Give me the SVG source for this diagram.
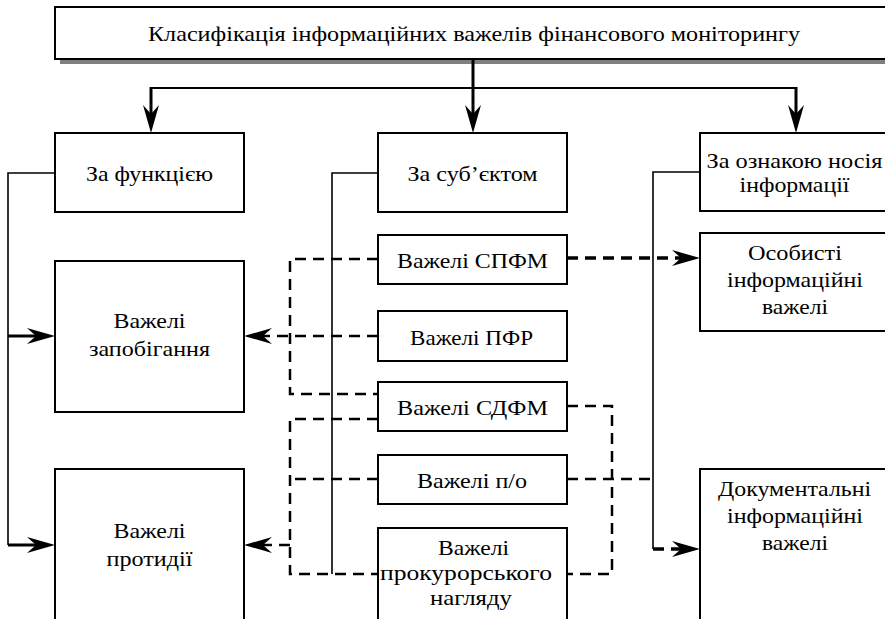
<svg xmlns="http://www.w3.org/2000/svg" width="885" height="619" viewBox="0 0 885 619">
<style>
.box{fill:#fff;stroke:#000;stroke-width:2}
.t{font-family:'Liberation Serif','Times New Roman',serif;font-size:22px;fill:#000;text-anchor:middle}
.thin{fill:none;stroke:#000;stroke-width:1.6}
.thick{fill:none;stroke:#000;stroke-width:3}
.dash{fill:none;stroke:#000;stroke-width:2.5;stroke-dasharray:11 7}
.dashb{fill:none;stroke:#000;stroke-width:3.5;stroke-dasharray:11 7}
</style>
<defs>
<marker id="ah" markerUnits="userSpaceOnUse" markerWidth="30" markerHeight="20" viewBox="0 -10 30 20" refX="13" refY="0" orient="auto" overflow="visible">
<path d="M0,-8 L28,0 L0,8 L9,0 Z" fill="#000"/>
</marker>
</defs>
<rect width="885" height="619" fill="#fff"/>
<g id="title">
<rect x="60" y="12" width="838" height="52" fill="#808080"/>
<rect class="box" x="55" y="7" width="838" height="52"/>
<text class="t" x="474" y="41" textLength="652" lengthAdjust="spacingAndGlyphs">Класифікація інформаційних важелів фінансового моніторингу</text>
</g>
<g id="by-function">
<rect class="box" x="55" y="133" width="189" height="79"/>
<text class="t" x="149.5" y="181" textLength="127" lengthAdjust="spacingAndGlyphs">За функцією</text>
</g>
<g id="by-subject">
<rect class="box" x="378" y="133" width="189" height="79"/>
<text class="t" x="472.5" y="181" textLength="130" lengthAdjust="spacingAndGlyphs">За суб’єктом</text>
</g>
<g id="by-carrier">
<rect class="box" x="700" y="133" width="189" height="78"/>
<text class="t" x="794.5" y="168" textLength="176" lengthAdjust="spacingAndGlyphs">За ознакою носія</text>
<text class="t" x="794.5" y="192" textLength="110" lengthAdjust="spacingAndGlyphs">інформації</text>
</g>
<g id="prevention">
<rect class="box" x="55" y="261" width="189" height="151"/>
<text class="t" x="149.5" y="328" textLength="72" lengthAdjust="spacingAndGlyphs">Важелі</text>
<text class="t" x="149.5" y="356" textLength="121" lengthAdjust="spacingAndGlyphs">запобігання</text>
</g>
<g id="counteraction">
<rect class="box" x="55" y="469" width="189" height="160"/>
<text class="t" x="149.5" y="538" textLength="72" lengthAdjust="spacingAndGlyphs">Важелі</text>
<text class="t" x="149.5" y="566" textLength="86" lengthAdjust="spacingAndGlyphs">протидії</text>
</g>
<g id="spfm">
<rect class="box" x="378" y="235" width="189" height="49"/>
<text class="t" x="472.5" y="268" textLength="151" lengthAdjust="spacingAndGlyphs">Важелі СПФМ</text>
</g>
<g id="pfr">
<rect class="box" x="378" y="311" width="189" height="50"/>
<text class="t" x="471.5" y="345" textLength="123" lengthAdjust="spacingAndGlyphs">Важелі ПФР</text>
</g>
<g id="sdfm">
<rect class="box" x="378" y="382" width="189" height="49"/>
<text class="t" x="472.5" y="415" textLength="151" lengthAdjust="spacingAndGlyphs">Важелі СДФМ</text>
</g>
<g id="po">
<rect class="box" x="378" y="455" width="189" height="49"/>
<text class="t" x="472" y="488" textLength="110" lengthAdjust="spacingAndGlyphs">Важелі п/о</text>
</g>
<g id="prosecutor">
<rect class="box" x="378" y="528" width="189" height="100"/>
<text class="t" x="473.5" y="555" textLength="71" lengthAdjust="spacingAndGlyphs">Важелі</text>
<text class="t" x="466" y="580" textLength="172" lengthAdjust="spacingAndGlyphs">прокурорського</text>
<text class="t" x="471" y="605" textLength="82" lengthAdjust="spacingAndGlyphs">нагляду</text>
</g>
<g id="personal">
<rect class="box" x="700" y="233" width="189" height="98"/>
<text class="t" x="795" y="260" textLength="94" lengthAdjust="spacingAndGlyphs">Особисті</text>
<text class="t" x="795" y="287" textLength="136" lengthAdjust="spacingAndGlyphs">інформаційні</text>
<text class="t" x="795" y="314" textLength="66" lengthAdjust="spacingAndGlyphs">важелі</text>
</g>
<g id="documentary">
<rect class="box" x="700" y="469" width="189" height="160"/>
<text class="t" x="794.5" y="496" textLength="153" lengthAdjust="spacingAndGlyphs">Документальні</text>
<text class="t" x="795" y="523" textLength="136" lengthAdjust="spacingAndGlyphs">інформаційні</text>
<text class="t" x="795" y="550" textLength="66" lengthAdjust="spacingAndGlyphs">важелі</text>
</g>
<g id="connectors">
<path class="thick" d="M473,59 V118" marker-end="url(#ah)"/>
<path fill="none" stroke="#000" stroke-width="2" d="M151,88 H796"/>
<path class="thick" d="M151,87 V118" marker-end="url(#ah)"/>
<path class="thick" d="M796,87 V118" marker-end="url(#ah)"/>
<path class="thin" d="M55,173 H8 V545"/>
<path class="thick" d="M8,336 H40" marker-end="url(#ah)"/>
<path class="thick" d="M8,545 H40" marker-end="url(#ah)"/>
<path class="thin" d="M378,173 H332 V574"/>
<path class="thin" d="M700,172 H653 V549"/>
<path class="dashb" d="M653,549 H685" marker-end="url(#ah)"/>
<path class="dashb" d="M567,258 H685" marker-end="url(#ah)"/>
<path class="dash" d="M378,259 H290 V394 H378"/>
<path class="dash" d="M378,336 H259" marker-end="url(#ah)"/>
<path class="dash" d="M378,419 H290 V574 H378"/>
<path class="dash" d="M378,479 H290"/>
<path class="dash" d="M290,545 H259" marker-end="url(#ah)"/>
<path class="dash" d="M567,406 H612 V574 H567"/>
<path class="dash" d="M567,479 H653"/>
</g>
</svg>
